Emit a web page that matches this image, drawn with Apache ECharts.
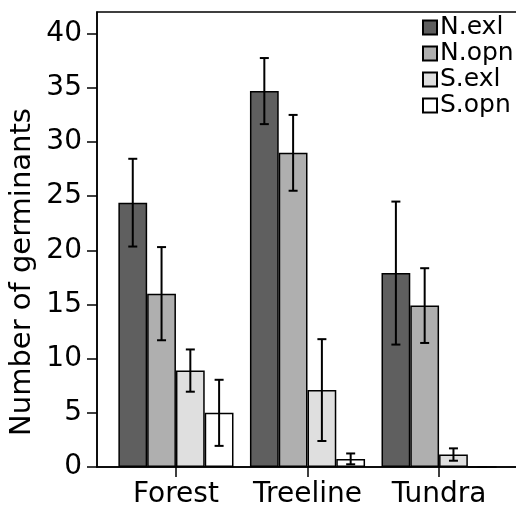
<!DOCTYPE html>
<html>
<head>
<meta charset="utf-8">
<script src="https://cdn.jsdelivr.net/npm/echarts@6/dist/echarts.min.js"></script>
<style>html,body{margin:0;padding:0;background:#fff;}#c{width:516px;height:507px;}</style>
</head>
<body>
<div id="c"></div>
<script>
const categories = ['Forest', 'Treeline', 'Tundra'];
const seriesNames = ['N.exl', 'N.opn', 'S.exl', 'S.opn'];
const nExl = [24.4, 34.7, 17.9];
const nExlErr = [4.05, 3.05, 6.6];
const nOpn = [16.0, 29.0, 14.9];
const nOpnErr = [4.3, 3.5, 3.45];
const sExl = [8.9, 7.1, 1.15];
const sExlErr = [1.95, 4.7, 0.57];
const sOpn = [5.0, 0.75, 0];
const sOpnErr = [3.05, 0.5, 0];
const yTicks = [0, 5, 10, 15, 20, 25, 30, 35, 40];
const colors = ['#5f5f5f', '#afafaf', '#dfdfdf', '#ffffff'];

const means = [nExl, nOpn, sExl, sOpn];
const errs = [nExlErr, nOpnErr, sExlErr, sOpnErr];
const FONT = 'DejaVu Sans';
const catIdx = categories.map((c, i) => i);
const GAP = 0.125;

const barSeries = seriesNames.map((name, s) => ({
  name: name,
  type: 'bar',
  barGap: '0%',
  barCategoryGap: (GAP * 100) + '%',
  data: catIdx.map(i => [i, means[s][i]]),
  itemStyle: { color: colors[s], borderColor: '#000', borderWidth: 1.5 },
  emphasis: { disabled: true },
  z: 2
}));

const errData = [];
seriesNames.forEach((name, s) => {
  catIdx.forEach(i => {
    errData.push([i, means[s][i] - errs[s][i], means[s][i] + errs[s][i], s]);
  });
});

const errSeries = {
  type: 'custom',
  data: errData,
  encode: { x: 0, y: [1, 2] },
  z: 5,
  clip: false,
  silent: true,
  renderItem: function (params, api) {
    const x = api.value(0), lo = api.value(1), hi = api.value(2), s = api.value(3);
    const unit = api.size([1, 0])[0];
    const bw = unit * (1 - GAP) / seriesNames.length;
    const pLo = api.coord([x, lo]);
    const pHi = api.coord([x, hi]);
    const px = pLo[0] + (s - (seriesNames.length - 1) / 2) * bw;
    const h = 4.5;
    const st = { stroke: '#000', lineWidth: 2 };
    return {
      type: 'group',
      children: [
        { type: 'line', shape: { x1: px, y1: pLo[1], x2: px, y2: pHi[1] }, style: st },
        { type: 'line', shape: { x1: px - h, y1: pLo[1], x2: px + h, y2: pLo[1] }, style: st },
        { type: 'line', shape: { x1: px - h, y1: pHi[1], x2: px + h, y2: pHi[1] }, style: st }
      ]
    };
  }
};

const chart = echarts.init(document.getElementById('c'), null, { renderer: 'canvas' });
chart.setOption({
  animation: false,
  backgroundColor: '#fff',
  textStyle: { fontFamily: FONT },
  grid: { left: 97, top: 12, width: 421, height: 455, outerBoundsMode: 'none', containLabel: false, show: true, borderColor: '#000', borderWidth: 1.5, backgroundColor: 'transparent' },
  legend: {
    data: seriesNames,
    orient: 'vertical',
    left: 422, top: 15,
    padding: 0,
    itemWidth: 14, itemHeight: 14, itemGap: 1,
    icon: 'rect',
    textStyle: { fontFamily: FONT, fontSize: 25, lineHeight: 22, color: '#000', padding: [0, 0, 0, -2] },
    selectedMode: false
  },
  xAxis: {
    type: 'value',
    min: -0.6, max: 2.6,
    splitLine: { show: false },
    axisLine: { show: true, onZero: false, lineStyle: { color: '#000', width: 1.5 } },
    axisTick: { show: true, customValues: catIdx, length: 10, lineStyle: { color: '#000', width: 1.5 } },
    axisLabel: { customValues: catIdx, formatter: v => categories[Math.round(v)], fontFamily: FONT, fontSize: 28, color: '#000', margin: 14 }
  },
  yAxis: {
    type: 'value',
    min: 0, max: 42,
    splitLine: { show: false },
    axisLine: { show: true, onZero: false, lineStyle: { color: '#000', width: 1.5 } },
    axisTick: { show: true, customValues: yTicks, length: 10, lineStyle: { color: '#000', width: 1.5 } },
    axisLabel: { customValues: yTicks, fontFamily: FONT, fontSize: 28, color: '#000', margin: 15, padding: [0, 0, 12, 0] }
  },
  graphic: [{
    type: 'text',
    x: 22, y: 272,
    rotation: Math.PI / 2,
    style: { text: 'Number of germinants', font: '29px "DejaVu Sans"', fill: '#000', textAlign: 'center', textVerticalAlign: 'middle' }
  }],
  series: barSeries.concat([errSeries])
});
</script>
</body>
</html>
